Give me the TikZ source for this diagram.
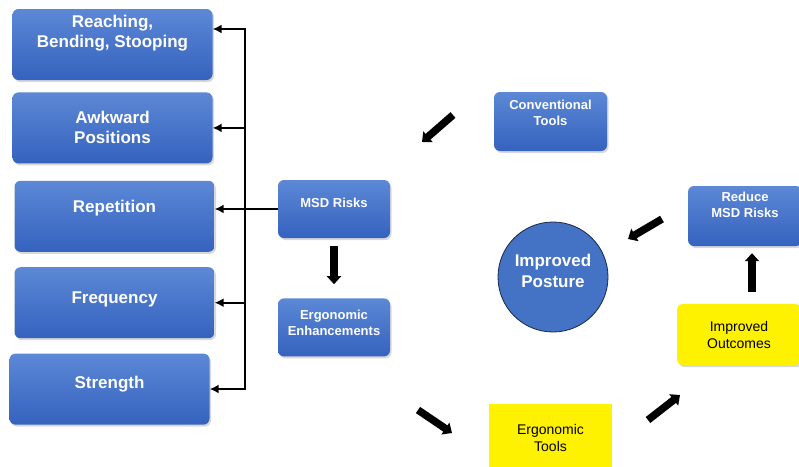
\documentclass[tikz,border=0pt]{standalone}
\usepackage{fontspec}
\setmainfont{Liberation Sans}
\usetikzlibrary{
  arrows.meta,
  positioning, shadows
}
\definecolor{boxtop}{HTML}{5C88D6}
\definecolor{boxbot}{HTML}{3562BE}
\definecolor{postblue}{HTML}{4472C4}
\tikzset{
  riskbox/.style={rectangle,rounded corners=6pt,top color=boxtop,bottom color=boxbot,draw=none,
    minimum width=200pt,minimum height=71pt,align=center,text=white,
    font=\fontsize{17}{20}\selectfont\bfseries,
    drop shadow={shadow xshift=1.5pt,shadow yshift=-2pt,opacity=0.3}},
  smallbox/.style={riskbox,minimum width=112pt,minimum height=58pt,
    font=\fontsize{13}{16}\selectfont\bfseries},
  yelbox/.style={rectangle,fill=yellow,minimum width=124pt,minimum height=61pt,align=center,
    font=\fontsize{14}{17}\selectfont},
  postcirc/.style={circle,fill=postblue,draw=black!65!postblue,line width=0.8pt,minimum size=110pt,
    align=center,text=white,font=\fontsize{17}{21}\selectfont\bfseries},
  lift/.style={text depth=#1},
  link/.style={-{Latex[length=9pt,width=9pt]},line width=1.7pt},
  fatarr/.style={-{Triangle[length=8pt,width=14pt]},line width=7.5pt}
}

\begin{document}
\begin{tikzpicture}[x=1pt,y=-1pt]
  \path[use as bounding box,fill=white] (0,0) rectangle (799,466);

  % risk factors
  \node[riskbox,lift=26pt] (reach) at (112.5,44.5) {Reaching,\\Bending, Stooping};
  \node[riskbox,below=12pt of reach] (awk) {Awkward\\Positions};
  \node[riskbox,below=17pt of awk,xshift=2pt,lift=20pt] (rep) {Repetition};
  \node[riskbox,below=15pt of rep,lift=10pt] (freq) {Frequency};
  \node[riskbox,below=15pt of freq,xshift=-5pt,lift=14pt] (str) {Strength};

  \node[smallbox,lift=12pt] (msd) at (334,209) {MSD Risks};
  \node[smallbox,below=60pt of msd,lift=10pt] (enh) {Ergonomic\\Enhancements};

  \coordinate (tr-top) at (245,29);
  \coordinate (tr-bot) at (245,389);
  \draw[link] (tr-bot) -- (tr-top) -- (tr-top -| reach.east);
  \draw[link] (tr-top) -- (tr-bot) -- (tr-bot -| str.east);
  \draw[link] (tr-top |- awk.east) -- (awk.east);
  \draw[link] (msd.west) -- (msd.west -| rep.east);
  \draw[link] (tr-top |- freq.east) -- (freq.east);
  \draw[fatarr,shorten <=8pt,shorten >=14pt] (msd) -- (enh);

  % cycle
  \node[smallbox,minimum width=113pt,minimum height=59pt,lift=18pt] (conv) at (550.5,121.5) {Conventional\\Tools};
  \node[smallbox,minimum width=114pt,minimum height=60pt,lift=22pt] (red) at (745,216) {Reduce\\MSD Risks};
  \node[postcirc,lift=12pt] (post) at (553,277) {Improved\\Posture};
  \node[yelbox,rounded corners=6pt,drop shadow={shadow xshift=1.5pt,shadow yshift=-2pt,opacity=0.3}]
    (outc) at (739,334.5) {Improved\\Outcomes};
  \node[yelbox,minimum width=123pt,minimum height=68pt] (etools) at (550.5,438) {Ergonomic\\Tools};

  \draw[fatarr,shorten <=12pt,shorten >=7pt] ([xshift=13pt]outc.north) -- ([xshift=7pt]red.south);

  \coordinate (cv-a) at (453,115);
  \coordinate (cv-b) at (422,142);
  \coordinate (rd-a) at (662,219);
  \coordinate (rd-b) at (628,239);
  \coordinate (en-a) at (418,410);
  \coordinate (en-b) at (452,433);
  \coordinate (et-a) at (648,420);
  \coordinate (et-b) at (680,395);
  \draw[fatarr] (cv-a) -- (cv-b);
  \draw[fatarr] (rd-a) -- (rd-b);
  \draw[fatarr] (en-a) -- (en-b);
  \draw[fatarr] (et-a) -- (et-b);

\end{tikzpicture}
\end{document}
